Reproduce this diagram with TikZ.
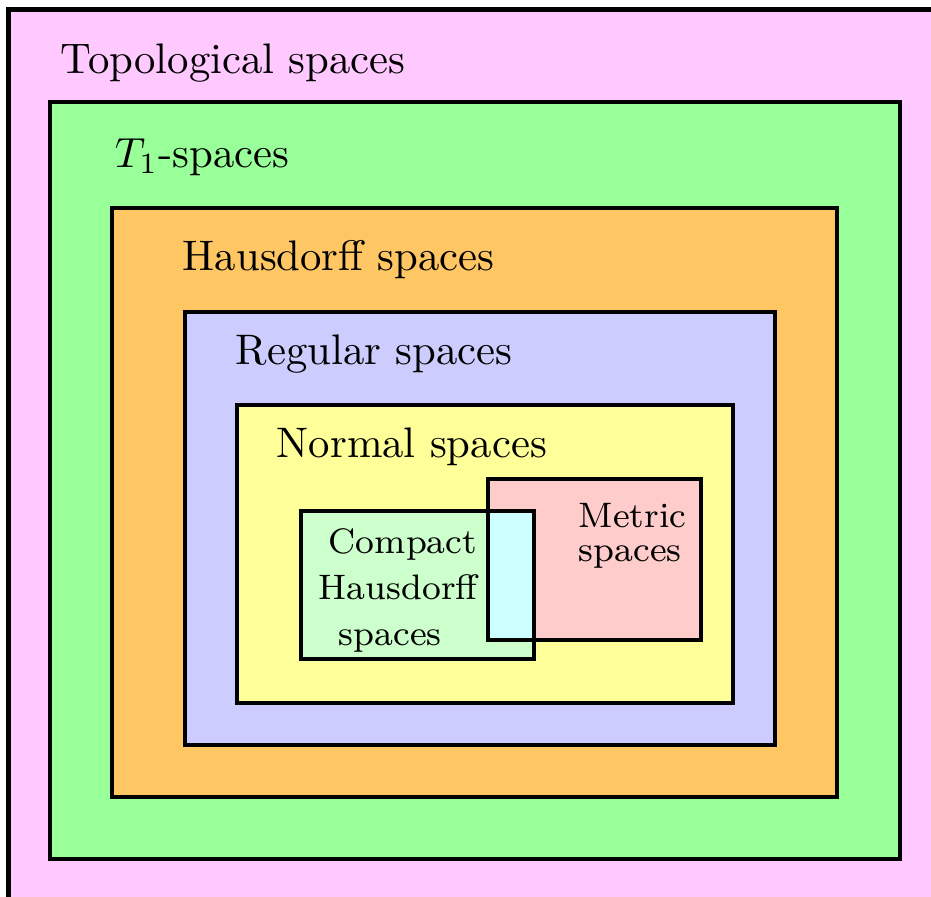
\documentclass[tikz,border=0pt]{standalone}
\begin{document}
\begin{tikzpicture}[x=0.2375pt,y=-0.2375pt,
  box/.style={draw=black,line width=1.15pt},
  biglabel/.style={anchor=base west,inner sep=0pt,font=\fontsize{10.15}{12}\selectfont},
  smalllabel/.style={anchor=base west,inner sep=0pt,font=\fontsize{8.4}{10}\selectfont}]
\definecolor{cTop}{RGB}{255,200,255}
\definecolor{cTone}{RGB}{153,255,153}
\definecolor{cHaus}{RGB}{255,199,99}
\definecolor{cReg}{RGB}{204,204,255}
\definecolor{cNorm}{RGB}{255,255,153}
\definecolor{cComp}{RGB}{204,255,204}
\definecolor{cMet}{RGB}{255,204,204}
\definecolor{cBoth}{RGB}{204,255,255}
\useasboundingbox (0,0) rectangle (931,896);
\fill[white] (0,0) rectangle (931,896);
\draw[box,fill=cTop] (8.5,9.5) rectangle (980,950);
\draw[box,fill=cTone] (50,102) rectangle (900,859);
\draw[box,fill=cHaus] (112,208) rectangle (837,797);
\draw[box,fill=cReg] (185,312) rectangle (775,745);
\draw[box,fill=cNorm] (237,405) rectangle (733,703);
\fill[cMet] (488,479) rectangle (701,640);
\fill[cComp] (301,511) rectangle (534,659);
\fill[cBoth] (488,511) rectangle (534,640);
\draw[box] (301,511) rectangle (534,659);
\draw[box] (488,479) rectangle (701,640);
\node[biglabel] (top) at (60,73) {Topological spaces};
\node[biglabel] (tone) at (114,167) {$T_1$-spaces};
\node[biglabel] (haus) at (182,270) {Hausdorff spaces};
\node[biglabel] (reg) at (235,364) {Regular spaces};
\node[biglabel] (norm) at (276,457) {Normal spaces};
\node[smalllabel] (ca) at (328,553) {Compact};
\node[smalllabel] (cb) at (318,599) {Hausdorff};
\node[smalllabel] (cc) at (338,645) {spaces};
\node[smalllabel] (ma) at (578,527) {Metric};
\node[smalllabel] (mb) at (578,561) {spaces};
\end{tikzpicture}
\end{document}
